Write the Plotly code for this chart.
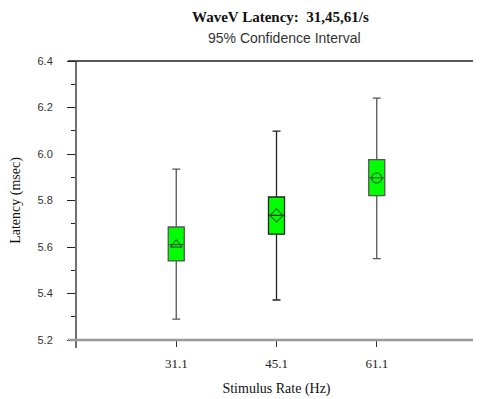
import plotly.graph_objects as go

rates = ["31.1", "45.1", "61.1"]
positions = [1, 2, 3]
lower_whisker = [5.29, 5.372, 5.55]
q1 = [5.54, 5.655, 5.821]
median = [5.61, 5.736, 5.897]
q3 = [5.686, 5.815, 5.976]
upper_whisker = [5.935, 6.098, 6.24]
mean_symbols = ["triangle-up-open", "diamond-open", "circle-open"]
box_line_colors = ["#555555", "#222222", "#555555"]
y_ticks = [5.2, 5.4, 5.6, 5.8, 6.0, 6.2, 6.4]

fig = go.Figure()
for i in range(len(rates)):
    fig.add_trace(go.Box(
        x=[positions[i]], q1=[q1[i]], median=[median[i]], q3=[q3[i]],
        lowerfence=[lower_whisker[i]], upperfence=[upper_whisker[i]],
        width=0.16, whiskerwidth=0.5,
        fillcolor="#00ff00", line=dict(color=box_line_colors[i], width=1.3),
        boxpoints=False, showlegend=False, hoverinfo="skip",
    ))
    fig.add_trace(go.Scatter(
        x=[positions[i]], y=[median[i]], mode="markers",
        marker=dict(symbol=mean_symbols[i], size=10,
                    color="#1d6b1d", line=dict(width=1.2, color="#1d6b1d")),
        showlegend=False, hoverinfo="skip",
    ))

# page body has an 8px margin, so the figure is shrunk by 8px to fit the window
fig.update_layout(
    width=473, height=391,
    margin=dict(l=68, r=4, t=53, b=59, autoexpand=False),
    paper_bgcolor="white", plot_bgcolor="white",
    annotations=[
        dict(text="<b>WaveV Latency:  31,45,61/s</b>", xref="paper", yref="paper",
             x=0.51, y=1, yshift=44, showarrow=False, xanchor="center", yanchor="middle",
             font=dict(family="Liberation Serif", size=15, color="#111")),
        dict(text="95% Confidence Interval", xref="paper", yref="paper",
             x=0.52, y=1, yshift=23, showarrow=False, xanchor="center", yanchor="middle",
             font=dict(family="Liberation Sans", size=14, color="#333")),
    ],
    shapes=[
        dict(type="line", xref="paper", yref="paper", x0=-0.02, x1=1, y0=1, y1=1,
             line=dict(color="#222", width=1.3)),
        dict(type="line", xref="paper", yref="paper", x0=0, x1=0, y0=-0.029, y1=1,
             line=dict(color="#222", width=1.3)),
        dict(type="line", xref="paper", yref="paper", x0=1, x1=1, y0=-0.029, y1=1,
             line=dict(color="#222", width=1.3)),
        dict(type="line", xref="paper", yref="paper", x0=-0.02, x1=1, y0=0, y1=0,
             line=dict(color="#999", width=2.5)),
    ],
)

fig.update_xaxes(
    range=[0, 4], tickmode="array", tickvals=positions, ticktext=rates,
    ticks="outside", ticklen=6, tickcolor="#333", showgrid=False, zeroline=False,
    showline=False, automargin=False, ticklabelstandoff=5,
    tickfont=dict(family="Liberation Serif", size=13, color="#222"),
    title=dict(text="Stimulus Rate (Hz)", standoff=13,
               font=dict(family="Liberation Serif", size=14, color="#111")),
)
fig.update_yaxes(
    range=[5.2, 6.4], tickmode="array", tickvals=y_ticks,
    ticktext=[f"{v:.1f}" for v in y_ticks],
    ticks="outside", ticklen=8, tickcolor="#222", showgrid=False, zeroline=False,
    showline=False, ticklabelstandoff=12, automargin=False,
    minor=dict(dtick=0.1, tick0=5.2, ticks="outside", ticklen=4, tickcolor="#222", showgrid=False),
    tickfont=dict(family="Liberation Sans", size=11, color="#333"),
    title=dict(text="Latency (msec)", standoff=24,
               font=dict(family="Liberation Serif", size=14, color="#111")),
)

fig.write_html("out.html")
